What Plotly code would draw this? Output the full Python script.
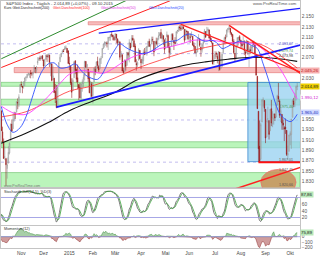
import numpy as np
import pandas as pd
import plotly.graph_objects as go
from plotly.subplots import make_subplots

# ---------------- data ----------------
holidays = ["2014-11-27", "2014-12-25", "2015-01-01", "2015-01-19", "2015-02-16",
            "2015-04-03", "2015-05-25", "2015-07-03", "2015-09-07"]
dates = [d.strftime("%Y-%m-%d") for d in pd.bdate_range("2014-09-19", "2015-10-09")
         if d.strftime("%Y-%m-%d") not in holidays]

opens = [
 2012,2009,1993,1983,1997,1966,1979,1978,1971,1946,1948,1970,1962,1935,
 1967,1926,1905,1877,1874,1855,1865,1885,1909,1941,1932,1951,1962,1964,1983,1979,2002,
 2018,2015,2015,2023,2032,2032,2038,2037,2040,2039,2038,2042,2051,2046,2060,2065,2070,2068,2074,
 2066,2054,2067,2074,2072,2075,2056,2058,2028,2030,2005,1986,1974,2019,2062,2072,2081,2083,2085,2087,2088,2083,
 2059,2054,2022,2006,2031,2064,2047,2031,2018,2013,1992,2020,2020,2034,2063,2051,2048,2032,2002,2019,
 1997,2023,2048,2043,2063,2053,2050,2068,2070,2089,2097,2099,2099,2097,2109,2110,2115,2114,2110,
 2105,2116,2107,2099,2101,2072,2076,2045,2042,2065,2055,2080,2072,2098,2091,2108,2103,2093,2059,2056,2065,2084,
 2067,2060,2064,2081,2077,2082,2091,2102,2092,2097,2105,2102,2084,2102,2098,2107,2113,2119,2108,2113,2105,
 2088,2110,2113,2091,2080,2092,2115,2103,2100,2100,2122,2121,2130,2128,2125,2130,2125,2105,2122,2121,
 2108,2110,2111,2112,2095,2092,2079,2081,2106,2107,2091,2085,2097,2101,2121,2113,2123,2124,2109,2102,2099,2062,
 2068,2079,2073,2069,2081,2049,2053,2080,2100,2109,2110,2124,2127,2127,2118,2115,2102,2079,2070,2093,2108,2111,
 2104,2097,2096,2100,2082,2080,2102,2082,2086,2084,2090,2101,2095,2076,2034,1966,1898,1873,1945,1986,1987,
 1970,1916,1951,1948,1928,1971,1942,1951,1961,1955,1979,1995,1986,1961,1960,1943,1934,1935,1929,1881,1888,
 1919,1921,1954,1986,1982,1994,2014]
highs = [
 2020,2009,1995,1999,1997,1986,1981,1985,1971,1953,1971,1977,1962,1970,
 1967,1936,1913,1898,1874,1876,1898,1905,1942,1950,1961,1965,1964,1985,1991,1999,2018,
 2024,2015,2024,2031,2034,2038,2041,2040,2046,2042,2043,2056,2052,2054,2071,2071,2074,2073,2075,
 2066,2068,2076,2077,2079,2076,2060,2059,2055,2031,2019,2017,2017,2061,2077,2079,2086,2087,2093,2094,2089,2085,
 2072,2055,2030,2030,2064,2065,2049,2057,2018,2021,2020,2028,2038,2064,2063,2058,2048,2042,2025,2023,
 2021,2051,2054,2063,2072,2056,2070,2073,2089,2097,2102,2100,2102,2110,2110,2116,2120,2115,2112,
 2117,2116,2107,2104,2101,2083,2076,2050,2066,2066,2081,2080,2106,2099,2114,2114,2107,2097,2067,2063,2089,2085,
 2067,2072,2086,2089,2091,2093,2102,2107,2097,2111,2111,2102,2103,2109,2109,2120,2120,2126,2117,2113,2105,
 2108,2121,2115,2099,2092,2117,2118,2105,2110,2121,2124,2131,2133,2135,2132,2132,2126,2126,2123,2121,
 2117,2117,2121,2112,2100,2093,2085,2108,2116,2107,2091,2098,2106,2126,2121,2130,2129,2125,2116,2108,2099,2075,
 2083,2082,2078,2083,2081,2074,2081,2100,2111,2115,2125,2128,2133,2128,2120,2116,2106,2079,2095,2110,2111,2114,
 2105,2102,2112,2104,2082,2105,2102,2090,2094,2092,2102,2103,2096,2076,2034,1966,1948,1943,1989,1993,1987,
 1970,1948,1975,1948,1970,1988,1966,1961,1961,1983,1998,2021,1989,1980,1960,1950,1937,1952,1929,1899,1920,
 1927,1951,1989,1992,2002,2016,2021]
lows = [
 2007,1991,1982,1978,1965,1966,1965,1968,1941,1926,1948,1958,1935,1925,
 1927,1906,1874,1871,1821,1835,1865,1882,1909,1927,1932,1946,1951,1964,1970,1974,2002,
 2013,2001,2010,2015,2025,2030,2035,2031,2030,2035,2030,2042,2040,2040,2056,2064,2064,2067,2064,
 2049,2054,2066,2062,2070,2052,2034,2024,2027,2002,1982,1972,1974,2019,2062,2071,2079,2081,2085,2087,2079,2058,
 2046,2017,1992,2006,2031,2038,2022,2009,1988,1991,1988,2004,2012,2026,2050,2041,2023,2001,1994,1993,
 1981,2023,2036,2043,2049,2042,2048,2058,2070,2087,2090,2093,2090,2085,2103,2103,2110,2104,2103,
 2104,2098,2094,2095,2066,2072,2044,2039,2042,2045,2055,2065,2061,2085,2091,2104,2091,2061,2045,2052,2065,2067,
 2048,2057,2057,2076,2076,2074,2091,2092,2083,2097,2100,2073,2084,2094,2091,2104,2112,2107,2101,2095,2078,
 2088,2110,2089,2068,2075,2092,2104,2085,2096,2100,2117,2121,2123,2122,2124,2126,2099,2105,2112,2104,
 2099,2099,2110,2093,2086,2079,2072,2081,2106,2091,2072,2080,2088,2100,2109,2113,2121,2108,2101,2098,2057,2056,
 2067,2071,2059,2044,2045,2049,2053,2080,2097,2102,2110,2119,2124,2115,2111,2098,2077,2063,2067,2091,2094,2102,
 2088,2088,2095,2075,2067,2080,2076,2052,2077,2081,2079,2094,2070,2036,1971,1867,1867,1872,1945,1975,1965,
 1904,1916,1944,1911,1928,1937,1935,1940,1947,1954,1977,1984,1953,1945,1930,1930,1908,1922,1879,1871,1888,
 1900,1893,1954,1974,1974,1987,2007]
closes = [
 2010,1994,1983,1998,1966,1983,1977,1972,1946,1946,1967,1964,1935,1968,
 1928,1906,1874,1877,1862,1862,1886,1904,1941,1927,1950,1964,1961,1985,1982,1994,2018,
 2017,2012,2023,2031,2032,2038,2039,2038,2039,2039,2041,2052,2048,2052,2063,2069,2068,2073,2068,
 2054,2066,2075,2072,2076,2061,2060,2026,2035,2002,1990,1973,2013,2061,2071,2079,2083,2082,2089,2091,2080,2059,
 2058,2021,2003,2026,2062,2045,2028,2023,2011,1992,2019,2023,2032,2063,2052,2057,2029,2002,2021,1995,
 2021,2050,2042,2062,2055,2046,2068,2068,2088,2097,2100,2100,2097,2110,2110,2115,2114,2111,2105,
 2117,2108,2099,2102,2071,2079,2044,2041,2066,2053,2081,2075,2100,2089,2108,2104,2091,2062,2056,2061,2086,2068,
 2060,2067,2081,2076,2082,2092,2102,2092,2096,2106,2105,2081,2101,2097,2107,2113,2117,2108,2115,2106,2086,
 2108,2115,2090,2080,2088,2116,2105,2099,2098,2121,2123,2130,2128,2126,2131,2126,2104,2124,2121,2107,
 2112,2110,2114,2095,2092,2079,2080,2105,2109,2094,2085,2096,2100,2122,2110,2122,2125,2108,2102,2101,2058,2063,
 2077,2077,2068,2082,2047,2052,2077,2100,2109,2108,2124,2127,2128,2119,2115,2102,2080,2068,2093,2109,2109,2104,
 2098,2093,2100,2084,2078,2104,2084,2086,2083,2092,2102,2096,2079,2036,1971,1893,1868,1940,1988,1989,1972,
 1914,1948,1951,1921,1970,1943,1953,1961,1953,1979,1996,1990,1958,1967,1943,1939,1932,1932,1882,1884,1920,
 1923,1951,1987,1979,1996,2014,2014.89]

# moving averages
ma200_dates = ["2014-10-09","2014-11-07","2014-12-05","2015-01-02","2015-01-30","2015-02-27","2015-03-27",
               "2015-04-24","2015-05-22","2015-06-19","2015-07-17","2015-08-14","2015-09-11","2015-10-09"]
ma200_vals = [1904,1923,1944,1967,1985,2002,2027,2043,2055,2062,2067,2071,2069,2063]
ma100_dates = ["2014-10-09","2014-11-07","2014-12-05","2015-01-02","2015-01-30","2015-02-27","2015-03-27",
               "2015-04-24","2015-05-22","2015-06-19","2015-07-17","2015-08-14","2015-08-28","2015-09-18","2015-10-09"]
ma100_vals = [1955,1965,1985,2005,2015,2030,2050,2065,2080,2090,2098,2100,2094,2075,2050]
ma50_dates = ["2014-10-09","2014-10-24","2014-11-07","2014-11-21","2014-12-05","2014-12-19","2015-01-02",
              "2015-01-16","2015-01-30","2015-02-13","2015-02-27","2015-03-13","2015-03-27","2015-04-10",
              "2015-04-24","2015-05-08","2015-05-22","2015-06-05","2015-06-19","2015-07-02","2015-07-17",
              "2015-07-31","2015-08-14","2015-08-21","2015-08-28","2015-09-04","2015-09-18","2015-10-02","2015-10-09"]
ma50_vals = [1976,1962,1960,1975,1995,2020,2038,2045,2043,2040,2050,2065,2075,2080,2088,2092,2098,2104,
             2104,2103,2099,2099,2098,2094,2086,2074,2050,2010,1990]
ma20_dates = ["2014-10-09","2014-10-16","2014-10-23","2014-10-31","2014-11-07","2014-11-14","2014-11-21",
              "2014-11-28","2014-12-05","2014-12-12","2014-12-19","2014-12-31","2015-01-09","2015-01-16",
              "2015-01-23","2015-01-30","2015-02-06","2015-02-13","2015-02-20","2015-02-27","2015-03-06",
              "2015-03-13","2015-03-20","2015-03-27","2015-04-02","2015-04-10","2015-04-17","2015-04-24",
              "2015-05-01","2015-05-08","2015-05-15","2015-05-22","2015-05-29","2015-06-05","2015-06-12",
              "2015-06-19","2015-06-26","2015-07-02","2015-07-10","2015-07-17","2015-07-24","2015-07-31",
              "2015-08-07","2015-08-14","2015-08-21","2015-08-28","2015-09-04","2015-09-11","2015-09-18",
              "2015-09-25","2015-10-02","2015-10-09"]
ma20_vals = [1975,1940,1925,1934,1955,1990,2025,2045,2058,2060,2050,2052,2058,2045,2036,2030,2028,2042,
             2062,2083,2097,2090,2084,2080,2078,2080,2086,2094,2100,2102,2104,2112,2116,2114,2106,2102,
             2104,2100,2088,2092,2098,2102,2100,2094,2088,2058,2024,1992,1962,1950,1946,1960]

# horizontal zones (price ranges)
green_zones = [(2014.5, 2022.2), (1978.0, 1989.4), (1895.0, 1906.7), (1800.0, 1846.8)]
pink_zones = [("2015-01-27", 2134.0, 2140.0), ("2014-10-24", 2041.0, 2051.0)]
dotted_levels = [2097, 2078, 1949, 1867]
# trend lines: (start date, start price, end date, end price, color, width)
trend_lines = [
    ("2014-10-09", 2068, "2015-03-16", 2182, "#2e8b2e", 1.0),
    ("2014-10-09", 2051, "2015-05-07", 2181, "#ff2020", 1.0),
    ("2014-12-16", 1974, "2015-10-14", 2095, "#1a1aff", 1.6),
    ("2015-02-09", 2118, "2015-10-14", 2166, "#1a1aff", 1.3),
    ("2015-07-20", 2133, "2015-10-14", 2039, "#ff2020", 1.5),
    ("2015-05-20", 2135, "2015-10-14", 2042, "#ff2020", 1.3),
    ("2015-06-15", 1793, "2015-10-14", 1857, "#ff2020", 1.5),
]
box_range = ("2015-08-11", "2015-10-14", 1868, 2022)
low_line = ("2015-08-24", "2015-10-14", 1867.01)
ellipse_range = ("2015-08-26", "2015-10-08", 1803, 1853)

month_ticks = ["2014-11-03","2014-12-01","2015-01-02","2015-02-02","2015-03-02","2015-04-01",
               "2015-05-01","2015-06-01","2015-07-01","2015-08-03","2015-09-01","2015-10-01"]
month_text = ["Nov","Dez","2015","Feb","Mär","Apr","Mai","Jun","Jul","Aug","Sep","Okt"]
price_ticks = [1830, 1850, 1870, 1890, 1910, 1930, 1950, 2030, 2070, 2090, 2110, 2130, 2150]
stoch_ticks = [20, 40, 60]
mom_ticks = [-200, -100, 0]

# ---------------- indicators ----------------
c = pd.Series(closes, dtype=float)
hh = pd.Series(highs, dtype=float).rolling(14, min_periods=1).max()
ll = pd.Series(lows, dtype=float).rolling(14, min_periods=1).min()
raw = 100 * (c - ll) / (hh - ll)
stk = raw.rolling(5, min_periods=1).mean()
std = stk.rolling(3, min_periods=1).mean()
mom = c - c.shift(12)

# ---------------- figure ----------------
fig = make_subplots(rows=3, cols=1, shared_xaxes=True, vertical_spacing=0.0)

fig.add_trace(go.Candlestick(
    x=dates, open=opens, high=highs, low=lows, close=closes,
    increasing=dict(line=dict(color="#8c8c8c", width=0.55), fillcolor="#ffffff"),
    decreasing=dict(line=dict(color="#8a1010", width=0.55), fillcolor="#d01010"),
    hoverinfo="skip"), row=1, col=1)

for dts, vals, col, w in [(ma200_dates, ma200_vals, "#111111", 1.1),
                          (ma100_dates, ma100_vals, "#ff3030", 0.8),
                          (ma50_dates, ma50_vals, "#ff40ff", 0.9),
                          (ma20_dates, ma20_vals, "#3050ff", 0.9)]:
    fig.add_trace(go.Scatter(x=dts, y=vals, mode="lines",
                             line=dict(color=col, width=w, shape="spline", smoothing=1.0),
                             hoverinfo="skip"), row=1, col=1)

fig.add_trace(go.Scatter(x=dates, y=stk, mode="lines",
                         line=dict(color="#555555", width=0.8, shape="spline"),
                         hoverinfo="skip"), row=2, col=1)
fig.add_trace(go.Scatter(x=dates, y=std, mode="lines",
                         line=dict(color="#3aa03a", width=0.8, shape="spline"),
                         hoverinfo="skip"), row=2, col=1)

fig.add_trace(go.Scatter(x=dates, y=mom.clip(lower=0), mode="lines", fill="tozeroy",
                         fillcolor="rgba(110,175,110,0.6)", line=dict(color="#3c8c3c", width=0.5),
                         hoverinfo="skip"), row=3, col=1)
fig.add_trace(go.Scatter(x=dates, y=mom.clip(upper=0), mode="lines", fill="tozeroy",
                         fillcolor="rgba(175,90,90,0.6)", line=dict(color="#903030", width=0.5),
                         hoverinfo="skip"), row=3, col=1)

shapes = []
shapes.append(dict(type="rect", xref="x", yref="y", x0=box_range[0], x1=box_range[1],
                   y0=box_range[2], y1=box_range[3], fillcolor="rgba(150,208,240,0.75)",
                   line=dict(color="#3a8ad0", width=0.8), layer="below"))
for lo, hi in green_zones:
    shapes.append(dict(type="rect", xref="x domain", yref="y", x0=0, x1=1, y0=lo, y1=hi,
                       fillcolor="rgba(150,240,150,0.65)", line=dict(color="#6cc06c", width=0.6),
                       layer="below"))
for d0, lo, hi in pink_zones:
    shapes.append(dict(type="rect", xref="x", yref="y", x0=d0, x1="2015-10-14", y0=lo, y1=hi,
                       fillcolor="rgba(245,160,160,0.7)", line=dict(color="#e07070", width=0.6),
                       layer="below"))
for lv in dotted_levels:
    shapes.append(dict(type="line", xref="x domain", yref="y", x0=0, x1=1, y0=lv, y1=lv,
                       line=dict(color="#a8a0e8", width=0.7, dash="dot"), layer="below"))
shapes.append(dict(type="circle", xref="x", yref="y", x0=ellipse_range[0], x1=ellipse_range[1],
                   y0=ellipse_range[2], y1=ellipse_range[3], fillcolor="rgba(200,150,95,0.9)",
                   line=dict(color="#f07070", width=0.8)))
for x0, y0, x1, y1, col, w in trend_lines:
    shapes.append(dict(type="line", xref="x", yref="y", x0=x0, y0=y0, x1=x1, y1=y1,
                       line=dict(color=col, width=w)))
shapes.append(dict(type="line", xref="x", yref="y", x0=low_line[0], x1=low_line[1],
                   y0=low_line[2], y1=low_line[2], line=dict(color="#ff1010", width=2)))
for lv in (20, 80):
    shapes.append(dict(type="line", xref="x2 domain", yref="y2", x0=0, x1=1, y0=lv, y1=lv,
                       line=dict(color="#9090e0", width=0.8)))
shapes.append(dict(type="line", xref="x3 domain", yref="y3", x0=0, x1=1, y0=0, y1=0,
                   line=dict(color="#9090e0", width=0.8)))
fig.update_layout(shapes=shapes)

H = 249.0
def py(px):
    return 1 - px / H

F = "Liberation Sans"
anns = []
def txt(x, y, s, color="#333", size=4.2, xanchor="left"):
    anns.append(dict(xref="paper", yref="paper", x=x / 300.0, y=py(y), text=s, showarrow=False,
                     xanchor=xanchor, yanchor="middle", font=dict(family=F, size=size, color=color)))

txt(3, 2.5, "S&P500 Index - Täglich - 2.014,89 (+0,07%) - 09.10.2015")
txt(299, 2.5, "www.ProRealTime.com", color="#555", xanchor="right")
txt(1, 7, "Kurs Gleit.Durchschnitt(200)", color="#222", size=3.6)
txt(50, 7, "Gleit.Durchschnitt(100)", color="#ff2020", size=3.6)
txt(98, 7, "Gleit.Durchschnitt(50)", color="#e030e0", size=3.6)
txt(146, 7, "Gleit.Durchschnitt(20)", color="#2040ff", size=3.6)
txt(1, 186, "www.ProRealTime.com", color="#777", size=3.5)
txt(1, 193, "Stochastik %K(14,5)  %D(3)", color="#333", size=3.8)
txt(1, 229.5, "Momentum(12)", color="#333", size=3.8)

def fmt(v):
    s = f"{v:,.2f}"
    return s.replace(",", "X").replace(".", ",").replace("X", ".")

def rlab(yref, v, s, bg, fg="#222"):
    anns.append(dict(xref="paper", yref=yref, x=1.0, y=v, text=s, showarrow=False,
                     xanchor="left", yanchor="middle", bgcolor=bg, borderpad=0,
                     font=dict(family=F, size=4.4, color=fg)))

rlab("y", 2046, "2.045,26", "#f6b0b0", "#c02020")
rlab("y", 2014.89, fmt(closes[-1]), "#f0d000")
rlab("y", 1992, "1.990,12", "#ffffff", "#d020d0")
rlab("y", 1964, "1.965,40", "#d0d8ff", "#2030c0")
rlab("y2", float(stk.iloc[-1]), fmt(float(stk.iloc[-1])), "#b8e8b8")
rlab("y3", float(mom.iloc[-1]), fmt(float(mom.iloc[-1])), "#b8e8b8")

def ilab(v, s, color):
    anns.append(dict(xref="x", yref="y", x="2015-10-07", y=v, text=s, showarrow=False,
                     xanchor="right", yanchor="middle", font=dict(family=F, size=3.6, color=color)))
ilab(2097, "2.093,07", "#4040c0")
ilab(2083, "2.079,74", "#3a9a3a")
ilab(2074, "2.073,98", "#333333")
ilab(1975, "1.975,46", "#3a9a3a")
ilab(1871, "1.867,01", "#555555")
ilab(1851, "1.847,45", "#555555")
ilab(1822, "1.820,66", "#555555")

fig.update_layout(annotations=anns)

rb = [dict(bounds=["sat", "mon"]), dict(values=holidays)]
fig.update_xaxes(rangebreaks=rb, range=["2014-10-08 18:00", "2015-10-13 09:00"],
                 rangeslider_visible=False, showgrid=False, zeroline=False,
                 showline=True, mirror=True, linecolor="#c4c4c4", linewidth=0.8)
fig.update_xaxes(tickmode="array", tickvals=month_ticks, ticktext=month_text,
                 tickfont=dict(family=F, size=4.8, color="#444"), ticks="", row=3, col=1)
fig.update_yaxes(side="right", showgrid=False, zeroline=False, showline=True, mirror=True,
                 linecolor="#c4c4c4", linewidth=0.8, ticks="",
                 tickfont=dict(family=F, size=4.8, color="#555"))
fig.update_yaxes(range=[1817.8, 2180.3], tickmode="array", tickvals=price_ticks,
                 tickformat=",d", row=1, col=1)
fig.update_yaxes(range=[-3, 104], tickmode="array", tickvals=stoch_ticks, row=2, col=1)
fig.update_yaxes(range=[-215, 200], tickmode="array", tickvals=mom_ticks, row=3, col=1)

fig.update_layout(
    width=320, height=256, margin=dict(l=0, r=20, t=0, b=7),
    paper_bgcolor="white", plot_bgcolor="white", showlegend=False,
    separators=",.", font=dict(family=F, size=5),
    yaxis=dict(domain=[0.245, 1.0]),
    yaxis2=dict(domain=[0.0924, 0.2369]),
    yaxis3=dict(domain=[0.0, 0.0884]),
)

fig.write_html("out.html")
